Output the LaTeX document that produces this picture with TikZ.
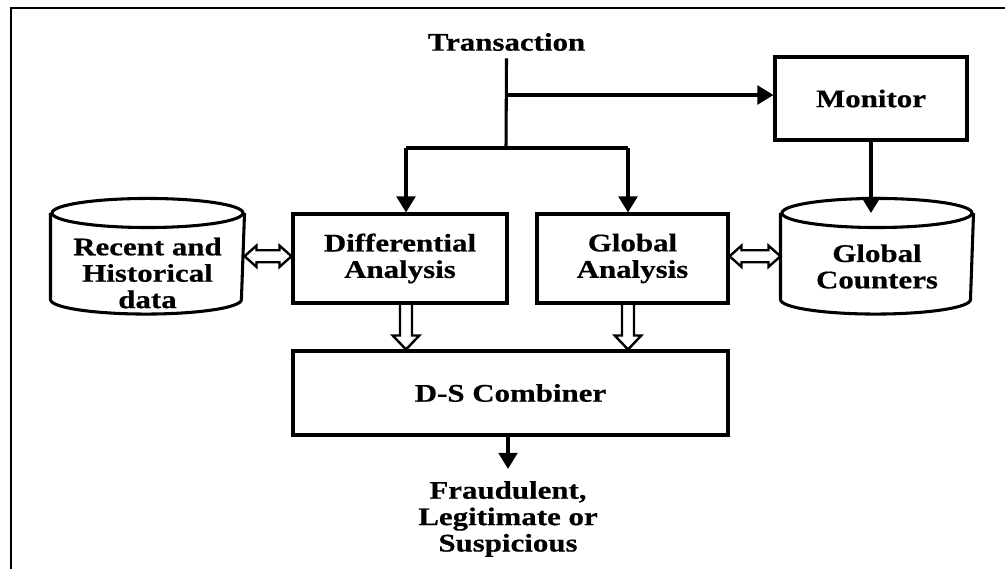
\documentclass[tikz,border=0pt]{standalone}
\usepackage{fontspec}
\setmainfont{Liberation Serif}[FakeStretch=1.22, BoldFeatures={FakeBold=0.6}]
\usetikzlibrary{arrows.meta,calc}
\begin{document}
\begin{tikzpicture}[x=0.75pt,y=-0.75pt, line width=2.3pt,
  every node/.style={font=\fontsize{19}{19.8}\selectfont\bfseries, align=center, inner sep=0pt},
  box/.style={draw, line width=2.3pt},
  arr/.style={-{Triangle[length=12pt,width=14pt]}},
  hollowdown/.style={line width=1.8pt, line join=miter, to path={
    let \p1=(\tikztostart), \p2=(\tikztotarget) in
    (\x1-4.5pt,\y1) -- (\x1-4.5pt,\y2+10.5pt) -- (\x1-10pt,\y2+10.5pt) -- (\x1,\y2)
    -- (\x1+10pt,\y2+10.5pt) -- (\x1+4.5pt,\y2+10.5pt) -- (\x1+4.5pt,\y1)}},
  hollowboth/.style={line width=1.8pt, line join=miter, to path={
    let \p1=(\tikztostart), \p2=(\tikztotarget) in
    (\x1,\y1) -- (\x1+9pt,\y1+8pt) -- (\x1+9pt,\y1+4.5pt) -- (\x2-9pt,\y1+4.5pt)
    -- (\x2-9pt,\y1+8pt) -- (\x2,\y1) -- (\x2-9pt,\y1-8pt) -- (\x2-9pt,\y1-4.5pt)
    -- (\x1+9pt,\y1-4.5pt) -- (\x1+9pt,\y1-8pt) -- cycle}},
  bodystyle/.style={draw=none, minimum width=#1, minimum height=62.6pt}
]
\useasboundingbox (0,0) rectangle (1005,568);
\draw[line width=2.2pt] (11,570) -- (11,8) -- (1007,8);

% nodes
\node[inner ysep=4.5pt] (trans) at (506.5,42) {Transaction};
\node[box, minimum width=144pt, minimum height=62.25pt] (mon) at (871,98.5) {Monitor};
\node[box, minimum width=160.5pt, minimum height=66.75pt] (diff) at (400,258.5) {Differential\\Analysis};
\node[box, minimum width=143.25pt, minimum height=66.75pt] (glob) at (632.5,258.5) {Global\\Analysis};
\node[box, minimum width=326.25pt, minimum height=63pt] (ds) at (510.5,393) {D-S Combiner};
\node (out) at (508,519) {Fraudulent,\\Legitimate or\\Suspicious};

% cylinders
\node[bodystyle=143.25pt] (rec) at (147.5,256.25) {};
\draw (rec.north west) -- (rec.south west) arc[start angle=180, end angle=360, x radius=71.6pt, y radius=10.9pt] -- (rec.north east);
\draw (rec.north) ellipse[x radius=71.6pt, y radius=10.9pt];
\node (rect) at (147.5,273) {Recent and\\Historical\\data};

\node[bodystyle=142.5pt] (gc) at (877,256.25) {};
\draw (gc.north west) -- (gc.south west) arc[start angle=180, end angle=360, x radius=71.25pt, y radius=10.9pt] -- (gc.north east);
\draw (gc.north) ellipse[x radius=71.25pt, y radius=10.9pt];
\node (gct) at (877,266.5) {Global\\Counters};

% junctions
\coordinate (j1) at (506,95);
\coordinate (j2) at (506,148);
\coordinate (jd) at (406,148);
\coordinate (jg) at (628,148);

% connectors
\draw (trans.south) -- (j2);
\draw[arr] (j1) -- (j1 -| mon.west);
\draw (jd) -- (jg);
\draw[arr] (jd) -- (jd |- diff.north);
\draw[arr] (jg) -- (jg |- glob.north);
\draw[arr] (mon.south) -- (mon.south |- gc.north);
\draw[hollowboth] (rec.east) to (rec.east -| diff.west);
\draw[hollowboth] (glob.east |- gc.west) to (gc.west);
\draw[hollowdown] (jd |- diff.south) to (jd |- ds.north);
\draw[hollowdown] (jg |- glob.south) to (jg |- ds.north);
\draw[arr] (ds.south -| out.north) -- ([yshift=8pt]out.north);
\end{tikzpicture}
\end{document}
